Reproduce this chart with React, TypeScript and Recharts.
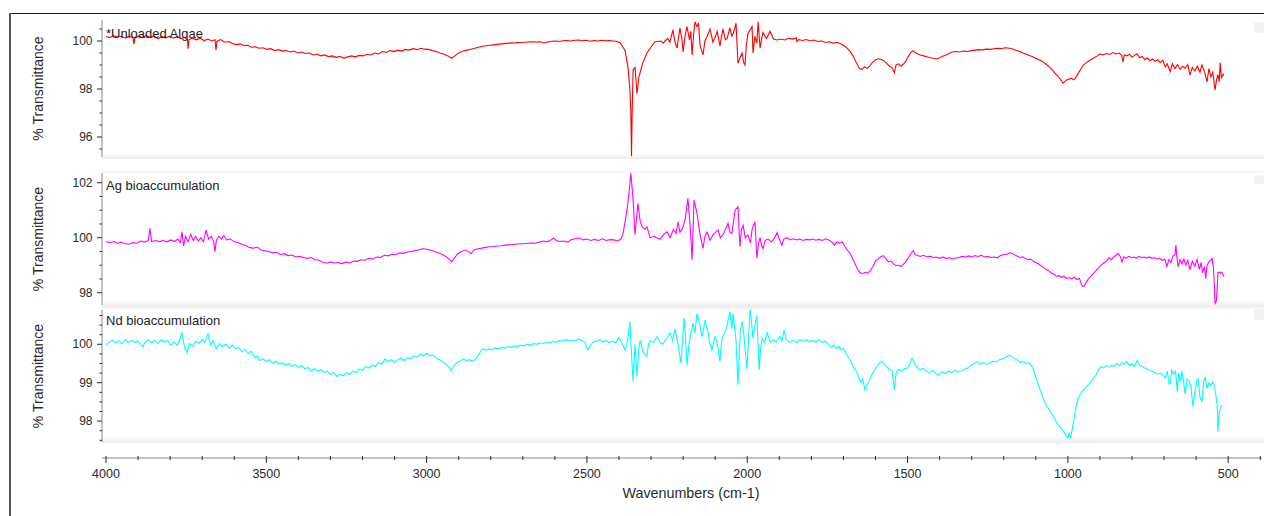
import React from 'react';
import { LineChart, Line, XAxis, YAxis, Legend } from 'recharts';

const FONT = '"Liberation Sans", Arial, Helvetica, sans-serif';

// [wavenumber (cm-1), % transmittance]
const algaeSpectrum: [number, number][] = [
  [4000, 100.18], [3988, 100.15], [3976, 100.22], [3964, 100.17], [3952, 100.2], [3940, 100.12], [3928, 100.2], [3916, 100.15],
  [3913, 99.87], [3910, 100.12], [3898, 100.2], [3886, 100.14], [3874, 100.22], [3862, 100.15], [3850, 100.2], [3838, 100.1],
  [3826, 100.18], [3814, 100.13], [3802, 100.2], [3790, 100.12], [3778, 100.18], [3766, 100.1], [3754, 100.15], [3746, 100.05],
  [3744, 99.68], [3741, 100.05], [3730, 100.12], [3718, 100.05], [3706, 100.12], [3694, 100.02], [3682, 100.08], [3670, 100.0],
  [3660, 100.05], [3657, 99.62], [3654, 99.98], [3642, 100.06], [3630, 99.95], [3618, 99.98], [3606, 99.9], [3594, 99.85],
  [3582, 99.88], [3570, 99.8], [3558, 99.82], [3546, 99.74], [3534, 99.76], [3522, 99.7], [3510, 99.72], [3498, 99.65],
  [3486, 99.68], [3474, 99.6], [3462, 99.64], [3450, 99.58], [3438, 99.6], [3426, 99.54], [3414, 99.58], [3402, 99.5],
  [3390, 99.54], [3378, 99.48], [3366, 99.5], [3354, 99.42], [3342, 99.46], [3330, 99.38], [3318, 99.42], [3306, 99.35],
  [3294, 99.38], [3282, 99.32], [3270, 99.36], [3258, 99.28], [3246, 99.34], [3234, 99.38], [3222, 99.34], [3210, 99.4],
  [3198, 99.38], [3186, 99.45], [3174, 99.42], [3162, 99.5], [3150, 99.46], [3138, 99.56], [3126, 99.52], [3114, 99.6],
  [3102, 99.56], [3090, 99.62], [3078, 99.58], [3066, 99.65], [3054, 99.62], [3042, 99.68], [3030, 99.64], [3018, 99.7],
  [3006, 99.66], [2994, 99.65], [2982, 99.6], [2970, 99.56], [2958, 99.5], [2946, 99.45], [2934, 99.38], [2922, 99.28],
  [2910, 99.4], [2898, 99.52], [2886, 99.58], [2874, 99.62], [2862, 99.66], [2850, 99.7], [2838, 99.74], [2826, 99.78],
  [2814, 99.8], [2802, 99.82], [2790, 99.84], [2778, 99.86], [2766, 99.88], [2754, 99.9], [2742, 99.91], [2730, 99.92],
  [2718, 99.94], [2706, 99.93], [2694, 99.95], [2682, 99.96], [2670, 99.97], [2658, 99.96], [2646, 99.97], [2634, 99.92],
  [2622, 99.96], [2610, 99.99], [2598, 100.0], [2586, 99.98], [2574, 100.01], [2562, 100.02], [2550, 100.0], [2538, 100.03],
  [2526, 100.04], [2514, 100.01], [2502, 100.03], [2490, 99.99], [2478, 100.02], [2466, 100.0], [2454, 100.03], [2442, 100.01],
  [2430, 100.02], [2418, 100.0], [2406, 99.98], [2396, 99.92], [2390, 99.8], [2381, 99.6], [2372, 98.9], [2366, 97.96],
  [2363, 97.0], [2361, 95.2], [2359, 97.0], [2356, 98.8], [2350, 98.9], [2344, 97.8], [2338, 98.5], [2326, 99.08],
  [2313, 99.5], [2300, 99.75], [2288, 99.97], [2270, 100.0], [2262, 99.92], [2255, 100.02], [2248, 100.1], [2241, 99.95],
  [2232, 100.46], [2226, 100.0], [2219, 99.7], [2210, 100.54], [2204, 100.1], [2200, 99.55], [2194, 100.2], [2188, 100.6],
  [2180, 100.05], [2176, 100.4], [2172, 99.42], [2167, 100.3], [2163, 100.8], [2157, 100.6], [2152, 100.75], [2147, 99.8],
  [2138, 99.42], [2132, 100.0], [2125, 100.2], [2116, 100.5], [2107, 99.95], [2100, 100.15], [2094, 100.4], [2085, 99.8],
  [2080, 100.2], [2076, 100.5], [2068, 100.05], [2063, 100.1], [2054, 100.55], [2048, 100.2], [2044, 100.3], [2035, 100.74],
  [2029, 99.07], [2022, 99.3], [2016, 99.5], [2011, 99.1], [2007, 99.0], [2003, 99.8], [1998, 100.3], [1985, 100.6],
  [1982, 99.5], [1976, 100.2], [1970, 99.9], [1966, 100.8], [1960, 99.7], [1955, 100.1], [1951, 100.35], [1940, 100.1],
  [1929, 100.4], [1918, 100.08], [1907, 100.04], [1895, 100.08], [1883, 100.04], [1871, 100.12], [1859, 100.08], [1847, 100.14],
  [1845, 99.97], [1840, 100.06], [1828, 100.02], [1816, 100.06], [1804, 100.0], [1792, 100.04], [1780, 99.98], [1768, 100.0],
  [1756, 99.94], [1744, 99.97], [1732, 99.92], [1720, 99.95], [1711, 99.9], [1700, 99.82], [1690, 99.72], [1680, 99.58],
  [1670, 99.38], [1660, 99.1], [1650, 98.85], [1642, 98.82], [1634, 98.92], [1626, 98.86], [1618, 98.95], [1610, 99.1],
  [1600, 99.22], [1590, 99.26], [1580, 99.22], [1572, 99.15], [1564, 99.05], [1556, 98.95], [1548, 98.88], [1541, 98.68],
  [1536, 99.0], [1528, 99.05], [1520, 98.95], [1514, 99.02], [1506, 99.15], [1498, 99.35], [1490, 99.52], [1484, 99.6],
  [1476, 99.52], [1468, 99.46], [1460, 99.42], [1450, 99.38], [1440, 99.34], [1430, 99.3], [1420, 99.28], [1410, 99.25],
  [1400, 99.3], [1390, 99.36], [1380, 99.42], [1370, 99.48], [1360, 99.54], [1350, 99.56], [1338, 99.54], [1326, 99.58],
  [1314, 99.56], [1302, 99.6], [1290, 99.62], [1278, 99.64], [1266, 99.63], [1254, 99.66], [1242, 99.65], [1230, 99.68],
  [1218, 99.7], [1206, 99.69], [1194, 99.72], [1182, 99.7], [1170, 99.66], [1160, 99.6], [1150, 99.56], [1140, 99.5],
  [1130, 99.45], [1120, 99.4], [1110, 99.34], [1100, 99.28], [1090, 99.22], [1080, 99.15], [1070, 99.05], [1060, 98.95],
  [1050, 98.82], [1040, 98.65], [1030, 98.52], [1022, 98.38], [1015, 98.24], [1010, 98.3], [1004, 98.38], [998, 98.4],
  [990, 98.45], [982, 98.38], [975, 98.48], [968, 98.65], [960, 98.82], [952, 99.0], [944, 99.08], [936, 99.16],
  [928, 99.22], [918, 99.3], [908, 99.38], [900, 99.46], [890, 99.42], [880, 99.48], [870, 99.44], [860, 99.52],
  [850, 99.46], [840, 99.5], [832, 99.4], [828, 99.12], [824, 99.42], [816, 99.38], [808, 99.45], [800, 99.32],
  [792, 99.4], [784, 99.47], [776, 99.3], [768, 99.36], [760, 99.22], [752, 99.3], [744, 99.18], [736, 99.25],
  [728, 99.15], [720, 99.22], [712, 99.1], [704, 99.2], [696, 98.92], [690, 99.05], [681, 98.72], [674, 99.05],
  [666, 98.85], [658, 99.02], [650, 98.82], [642, 98.95], [634, 98.86], [626, 99.02], [619, 98.58], [612, 98.9],
  [604, 98.75], [596, 98.95], [588, 98.7], [582, 99.0], [574, 98.72], [566, 98.3], [560, 98.85], [554, 98.5],
  [548, 98.7], [541, 97.96], [536, 98.4], [532, 98.6], [528, 98.3], [525, 99.1], [521, 98.45], [516, 98.62],
  [513, 98.56],
];

const agSpectrum: [number, number][] = [
  [4000, 99.85], [3988, 99.82], [3976, 99.86], [3964, 99.8], [3952, 99.84], [3940, 99.78], [3928, 99.76], [3916, 99.82],
  [3904, 99.8], [3892, 99.88], [3880, 99.84], [3868, 99.9], [3863, 100.34], [3858, 99.86], [3846, 99.9], [3834, 99.86],
  [3822, 99.9], [3810, 99.85], [3798, 99.92], [3786, 99.86], [3776, 99.95], [3768, 99.82], [3763, 100.22], [3758, 99.7],
  [3752, 100.05], [3744, 99.85], [3736, 100.12], [3728, 99.9], [3720, 100.05], [3712, 99.88], [3704, 100.0], [3696, 99.85],
  [3688, 100.28], [3680, 99.95], [3672, 100.05], [3664, 99.85], [3660, 99.49], [3656, 99.9], [3648, 100.05], [3640, 99.95],
  [3632, 100.08], [3624, 99.92], [3612, 99.95], [3600, 99.85], [3588, 99.82], [3576, 99.76], [3564, 99.72], [3552, 99.64],
  [3540, 99.62], [3528, 99.66], [3516, 99.55], [3504, 99.52], [3492, 99.5], [3480, 99.45], [3468, 99.47], [3456, 99.38],
  [3444, 99.42], [3432, 99.35], [3420, 99.37], [3408, 99.3], [3396, 99.32], [3384, 99.28], [3372, 99.25], [3360, 99.28],
  [3348, 99.2], [3336, 99.18], [3324, 99.12], [3312, 99.07], [3300, 99.12], [3288, 99.08], [3276, 99.1], [3264, 99.05],
  [3252, 99.12], [3240, 99.08], [3228, 99.15], [3216, 99.14], [3204, 99.2], [3192, 99.18], [3180, 99.25], [3168, 99.22],
  [3156, 99.3], [3144, 99.28], [3132, 99.36], [3120, 99.34], [3108, 99.4], [3096, 99.38], [3084, 99.45], [3072, 99.43],
  [3060, 99.48], [3048, 99.5], [3036, 99.53], [3024, 99.56], [3012, 99.6], [3000, 99.58], [2988, 99.55], [2976, 99.5],
  [2964, 99.45], [2952, 99.4], [2940, 99.32], [2928, 99.2], [2921, 99.13], [2914, 99.25], [2904, 99.4], [2892, 99.5],
  [2880, 99.55], [2870, 99.5], [2862, 99.42], [2852, 99.55], [2840, 99.6], [2828, 99.62], [2816, 99.65], [2804, 99.67],
  [2792, 99.68], [2780, 99.7], [2768, 99.71], [2756, 99.73], [2744, 99.74], [2732, 99.75], [2720, 99.77], [2708, 99.78],
  [2696, 99.78], [2684, 99.8], [2672, 99.81], [2660, 99.8], [2648, 99.84], [2636, 99.88], [2624, 99.85], [2612, 99.92],
  [2604, 99.98], [2596, 99.9], [2584, 99.86], [2572, 99.88], [2560, 99.84], [2548, 99.93], [2536, 99.96], [2524, 99.99],
  [2512, 99.92], [2500, 99.95], [2488, 99.9], [2476, 99.94], [2464, 99.9], [2452, 99.96], [2440, 99.9], [2428, 99.93],
  [2416, 99.92], [2404, 99.88], [2394, 99.95], [2388, 100.1], [2375, 101.0], [2369, 101.6], [2363, 102.34], [2356, 101.37],
  [2350, 100.1], [2341, 101.25], [2334, 100.6], [2328, 100.4], [2319, 100.3], [2313, 100.4], [2303, 100.0], [2290, 100.05],
  [2280, 99.98], [2272, 99.95], [2262, 100.1], [2250, 100.22], [2241, 100.0], [2230, 100.3], [2222, 100.15], [2216, 100.58],
  [2210, 100.2], [2203, 100.3], [2194, 100.64], [2185, 101.43], [2178, 100.4], [2172, 99.19], [2166, 101.37], [2157, 100.9],
  [2152, 100.5], [2147, 100.1], [2138, 99.61], [2132, 100.05], [2125, 100.2], [2116, 99.9], [2107, 100.1], [2098, 100.2],
  [2091, 100.28], [2084, 100.0], [2076, 100.1], [2068, 100.3], [2060, 100.52], [2054, 100.2], [2048, 100.15], [2038, 101.0],
  [2029, 101.13], [2023, 99.67], [2018, 100.3], [2013, 100.45], [2006, 100.0], [1998, 100.1], [1990, 99.8], [1985, 100.3],
  [1976, 100.58], [1970, 99.25], [1965, 99.8], [1960, 100.0], [1955, 99.7], [1951, 99.6], [1944, 99.9], [1935, 99.95],
  [1924, 99.85], [1914, 100.0], [1907, 100.18], [1898, 99.9], [1892, 99.73], [1886, 99.95], [1876, 100.0], [1866, 99.92],
  [1856, 99.96], [1846, 99.92], [1836, 99.95], [1826, 99.9], [1816, 99.94], [1806, 99.92], [1796, 99.95], [1786, 99.91],
  [1776, 99.94], [1766, 99.9], [1756, 99.96], [1746, 99.92], [1736, 99.85], [1728, 99.73], [1720, 99.85], [1712, 99.8],
  [1704, 99.85], [1696, 99.7], [1688, 99.55], [1680, 99.45], [1672, 99.25], [1664, 99.05], [1656, 98.85], [1648, 98.72],
  [1640, 98.7], [1632, 98.74], [1624, 98.7], [1616, 98.8], [1608, 98.95], [1600, 99.15], [1592, 99.22], [1584, 99.3],
  [1576, 99.35], [1568, 99.25], [1560, 99.12], [1552, 99.15], [1544, 99.05], [1536, 98.98], [1528, 99.0], [1520, 98.95],
  [1512, 99.05], [1504, 99.15], [1496, 99.3], [1488, 99.45], [1482, 99.53], [1476, 99.38], [1468, 99.35], [1460, 99.32],
  [1450, 99.36], [1440, 99.3], [1430, 99.33], [1420, 99.28], [1410, 99.3], [1400, 99.25], [1390, 99.3], [1380, 99.24],
  [1370, 99.28], [1360, 99.22], [1350, 99.26], [1340, 99.28], [1330, 99.32], [1320, 99.3], [1310, 99.34], [1300, 99.3],
  [1290, 99.35], [1280, 99.32], [1270, 99.36], [1260, 99.3], [1250, 99.32], [1240, 99.28], [1230, 99.3], [1220, 99.27],
  [1210, 99.35], [1200, 99.38], [1190, 99.4], [1180, 99.45], [1172, 99.42], [1164, 99.36], [1156, 99.32], [1148, 99.28],
  [1140, 99.3], [1132, 99.24], [1124, 99.2], [1116, 99.22], [1108, 99.15], [1100, 99.1], [1092, 99.05], [1084, 98.98],
  [1076, 98.92], [1068, 98.85], [1060, 98.8], [1052, 98.72], [1044, 98.68], [1036, 98.6], [1028, 98.62], [1020, 98.56],
  [1012, 98.6], [1004, 98.52], [996, 98.55], [988, 98.5], [980, 98.56], [972, 98.48], [964, 98.52], [956, 98.25],
  [950, 98.22], [944, 98.35], [936, 98.5], [928, 98.6], [920, 98.7], [912, 98.8], [904, 98.9], [896, 99.0],
  [888, 99.08], [880, 99.15], [872, 99.28], [864, 99.2], [856, 99.3], [848, 99.38], [843, 99.43], [836, 99.3],
  [831, 99.12], [826, 99.3], [818, 99.25], [810, 99.32], [802, 99.28], [794, 99.3], [786, 99.25], [778, 99.32],
  [770, 99.28], [762, 99.3], [754, 99.26], [746, 99.3], [738, 99.25], [730, 99.28], [722, 99.22], [714, 99.25],
  [706, 99.18], [698, 99.22], [691, 98.95], [685, 99.2], [678, 99.1], [672, 99.35], [666, 99.38], [663, 99.73],
  [660, 99.3], [656, 98.95], [650, 99.2], [644, 99.05], [638, 99.22], [632, 99.0], [626, 99.18], [619, 98.83],
  [612, 99.15], [604, 98.95], [597, 99.22], [590, 98.85], [584, 99.1], [580, 98.72], [574, 98.95], [570, 98.52],
  [566, 99.0], [560, 99.12], [554, 99.18], [550, 99.25], [546, 98.9], [543, 98.2], [541, 97.61], [537, 97.7],
  [535, 98.0], [532, 98.72], [528, 98.75], [524, 98.7], [519, 98.75], [513, 98.58],
];

const ndSpectrum: [number, number][] = [
  [4000, 99.98], [3990, 100.05], [3980, 100.11], [3970, 100.04], [3960, 100.09], [3950, 100.02], [3940, 100.12], [3930, 100.05],
  [3920, 100.1], [3910, 100.04], [3900, 100.08], [3890, 99.98], [3885, 99.94], [3878, 100.05], [3868, 100.12], [3858, 100.04],
  [3848, 100.1], [3838, 100.02], [3828, 100.12], [3818, 100.06], [3808, 100.1], [3798, 99.98], [3788, 100.06], [3778, 99.98],
  [3770, 100.12], [3763, 100.31], [3756, 99.95], [3747, 99.77], [3740, 100.02], [3730, 99.95], [3720, 100.08], [3710, 100.02],
  [3700, 100.12], [3692, 100.05], [3682, 100.27], [3674, 99.98], [3666, 100.1], [3656, 99.88], [3646, 100.02], [3636, 99.95],
  [3626, 100.0], [3616, 99.9], [3606, 99.98], [3596, 99.88], [3586, 99.92], [3576, 99.8], [3566, 99.86], [3556, 99.76],
  [3546, 99.82], [3536, 99.65], [3528, 99.7], [3520, 99.58], [3510, 99.62], [3500, 99.55], [3490, 99.6], [3480, 99.5],
  [3470, 99.56], [3460, 99.48], [3450, 99.52], [3440, 99.45], [3430, 99.5], [3420, 99.42], [3410, 99.47], [3400, 99.4],
  [3390, 99.45], [3380, 99.36], [3370, 99.4], [3360, 99.3], [3350, 99.37], [3340, 99.3], [3330, 99.34], [3320, 99.26],
  [3310, 99.3], [3300, 99.22], [3290, 99.26], [3280, 99.16], [3270, 99.22], [3260, 99.18], [3250, 99.26], [3240, 99.22],
  [3230, 99.3], [3220, 99.26], [3210, 99.36], [3200, 99.32], [3190, 99.42], [3180, 99.38], [3170, 99.46], [3160, 99.42],
  [3150, 99.52], [3140, 99.48], [3130, 99.62], [3120, 99.55], [3110, 99.6], [3100, 99.52], [3090, 99.6], [3080, 99.64],
  [3070, 99.58], [3060, 99.66], [3050, 99.62], [3040, 99.7], [3030, 99.66], [3020, 99.74], [3010, 99.7], [3000, 99.76],
  [2990, 99.7], [2980, 99.72], [2970, 99.64], [2960, 99.6], [2950, 99.55], [2940, 99.48], [2930, 99.4], [2924, 99.31],
  [2916, 99.42], [2906, 99.52], [2896, 99.56], [2886, 99.62], [2876, 99.58], [2866, 99.6], [2856, 99.56], [2846, 99.62],
  [2836, 99.75], [2826, 99.88], [2816, 99.85], [2806, 99.88], [2796, 99.86], [2786, 99.9], [2776, 99.88], [2766, 99.92],
  [2756, 99.9], [2746, 99.94], [2736, 99.92], [2726, 99.96], [2716, 99.94], [2706, 99.98], [2696, 99.96], [2686, 100.0],
  [2676, 99.98], [2666, 100.02], [2656, 100.0], [2646, 100.04], [2636, 100.02], [2626, 100.06], [2616, 100.04], [2606, 100.08],
  [2596, 100.05], [2586, 100.1], [2576, 100.08], [2566, 100.12], [2556, 100.09], [2546, 100.1], [2536, 100.08], [2526, 100.14],
  [2516, 100.1], [2506, 100.05], [2497, 99.85], [2490, 99.95], [2481, 100.06], [2470, 100.08], [2460, 100.12], [2450, 100.06],
  [2440, 100.1], [2430, 100.05], [2420, 100.08], [2410, 100.04], [2400, 100.18], [2392, 100.05], [2381, 99.85], [2373, 100.1],
  [2366, 100.59], [2360, 99.6], [2356, 99.03], [2350, 100.0], [2344, 99.16], [2338, 99.9], [2334, 100.1], [2325, 99.8],
  [2313, 99.68], [2308, 100.0], [2303, 100.1], [2292, 100.05], [2281, 100.2], [2272, 100.05], [2263, 100.0], [2252, 100.15],
  [2241, 100.29], [2233, 100.1], [2225, 100.4], [2216, 100.0], [2207, 99.51], [2201, 100.2], [2197, 100.68], [2192, 100.1],
  [2188, 99.45], [2183, 99.9], [2178, 100.2], [2169, 100.55], [2163, 100.3], [2157, 100.8], [2150, 100.6], [2141, 100.2],
  [2136, 100.4], [2132, 100.63], [2122, 100.3], [2116, 100.0], [2110, 99.85], [2101, 100.2], [2094, 100.05], [2085, 99.55],
  [2080, 100.1], [2076, 100.2], [2068, 100.35], [2063, 100.5], [2054, 100.85], [2048, 100.4], [2044, 100.8], [2035, 100.1],
  [2029, 98.94], [2022, 100.3], [2016, 100.6], [2010, 100.2], [2007, 99.9], [2001, 99.35], [1995, 100.3], [1991, 100.94],
  [1986, 100.5], [1982, 100.15], [1976, 100.5], [1970, 100.75], [1963, 99.33], [1958, 99.9], [1954, 100.15], [1946, 100.05],
  [1938, 100.3], [1928, 100.05], [1920, 100.12], [1910, 100.06], [1898, 100.2], [1892, 100.08], [1885, 100.37], [1878, 100.12],
  [1867, 100.05], [1856, 100.1], [1846, 100.05], [1836, 100.12], [1826, 100.08], [1816, 100.12], [1806, 100.06], [1796, 100.1],
  [1786, 100.06], [1776, 100.12], [1766, 100.05], [1756, 100.08], [1746, 99.98], [1738, 99.92], [1730, 99.98], [1722, 99.9],
  [1714, 99.95], [1706, 99.85], [1700, 99.9], [1692, 99.75], [1684, 99.65], [1676, 99.55], [1668, 99.4], [1660, 99.3],
  [1652, 99.15], [1646, 99.02], [1640, 99.1], [1633, 98.81], [1626, 98.95], [1620, 99.05], [1612, 99.2], [1604, 99.32],
  [1596, 99.42], [1588, 99.5], [1580, 99.56], [1572, 99.48], [1564, 99.4], [1556, 99.35], [1548, 99.3], [1541, 98.81],
  [1536, 99.25], [1528, 99.35], [1520, 99.3], [1510, 99.36], [1500, 99.38], [1492, 99.5], [1486, 99.64], [1478, 99.5],
  [1470, 99.4], [1462, 99.33], [1452, 99.38], [1442, 99.3], [1432, 99.26], [1422, 99.32], [1412, 99.24], [1402, 99.2],
  [1392, 99.28], [1382, 99.24], [1372, 99.3], [1362, 99.26], [1352, 99.32], [1342, 99.28], [1332, 99.3], [1322, 99.35],
  [1312, 99.38], [1302, 99.45], [1292, 99.5], [1283, 99.55], [1274, 99.48], [1264, 99.52], [1254, 99.48], [1244, 99.5],
  [1234, 99.56], [1224, 99.54], [1214, 99.6], [1204, 99.62], [1194, 99.66], [1186, 99.7], [1180, 99.72], [1172, 99.66],
  [1164, 99.62], [1156, 99.58], [1148, 99.52], [1140, 99.55], [1132, 99.5], [1124, 99.52], [1116, 99.48], [1108, 99.35],
  [1100, 99.15], [1092, 98.95], [1084, 98.75], [1076, 98.58], [1068, 98.42], [1060, 98.32], [1052, 98.22], [1044, 98.1],
  [1036, 97.98], [1028, 97.88], [1020, 97.8], [1012, 97.72], [1006, 97.62], [1000, 97.56], [996, 97.7], [992, 97.56],
  [986, 97.8], [980, 98.1], [974, 98.4], [966, 98.62], [960, 98.72], [952, 98.8], [944, 98.88], [936, 98.95],
  [928, 99.02], [920, 99.12], [912, 99.2], [904, 99.35], [896, 99.42], [888, 99.38], [880, 99.45], [872, 99.4],
  [864, 99.46], [856, 99.42], [848, 99.5], [840, 99.44], [832, 99.52], [824, 99.48], [816, 99.55], [808, 99.45],
  [800, 99.5], [792, 99.42], [784, 99.58], [776, 99.45], [768, 99.42], [760, 99.38], [752, 99.35], [744, 99.32],
  [736, 99.3], [728, 99.26], [720, 99.22], [712, 99.25], [704, 99.2], [696, 99.12], [690, 99.3], [684, 98.96],
  [680, 99.0], [676, 99.32], [670, 99.22], [664, 99.3], [659, 98.77], [654, 99.25], [648, 99.05], [644, 99.3],
  [638, 98.95], [634, 98.7], [628, 99.1], [622, 99.05], [616, 98.9], [610, 98.38], [604, 98.75], [598, 99.05],
  [594, 99.1], [588, 98.62], [582, 98.5], [576, 99.05], [572, 99.15], [566, 98.85], [560, 99.0], [554, 98.92],
  [548, 99.02], [542, 98.9], [538, 98.64], [534, 98.4], [532, 97.73], [528, 98.2], [524, 98.35], [519, 98.42],
];

// ---------- axes ----------
const xTicks = [
  4000, 3900, 3800, 3700, 3600, 3500, 3400, 3300, 3200, 3100,
  3000, 2900, 2800, 2700, 2600, 2500, 2400, 2300, 2200, 2100,
  2000, 1900, 1800, 1700, 1600, 1500, 1400, 1300, 1200, 1100,
  1000, 900, 800, 700, 600, 500, 400,
];
const xMajor = [4000, 3500, 3000, 2500, 2000, 1500, 1000, 500];
const X_DOMAIN = [394.5, 4012.5];

const algaeTicks = [95.5, 96, 96.5, 97, 97.5, 98, 98.5, 99, 99.5, 100, 100.5];
const algaeMajor = [96, 98, 100];
const agTicks = [98, 98.5, 99, 99.5, 100, 100.5, 101, 101.5, 102];
const agMajor = [98, 100, 102];
const ndTicks = [97.5, 97.75, 98, 98.25, 98.5, 98.75, 99, 99.25, 99.5, 99.75, 100, 100.25, 100.5, 100.75];
const ndMajor = [98, 99, 100];

const toRows = (s: [number, number][]) => s.map(([wn, t]) => ({ wn, t }));
const algaeData = toRows(algaeSpectrum);
const agData = toRows(agSpectrum);
const ndData = toRows(ndSpectrum);

const TICK_COLOR = '#2a2a2a';
const AXIS_GRAY = '#c4c4c4';

function YTick(props: any) {
  const { x, y, payload, majors } = props;
  const v = payload?.value;
  const major = majors.includes(v);
  return (
    <g>
      <line x1={x - (major ? 5 : 2.5)} x2={x} y1={y} y2={y} stroke={TICK_COLOR} strokeWidth={1} />
      {major && (
        <text x={x - 9.5} y={y + 4.2} textAnchor="end" fontSize={12} fontFamily={FONT} fill={TICK_COLOR}>
          {v}
        </text>
      )}
    </g>
  );
}

function XTick(props: any) {
  const { x, y, payload } = props;
  const v = payload?.value;
  const major = xMajor.includes(v);
  return (
    <g>
      <line x1={x} x2={x} y1={y - 2} y2={y + (major ? 5 : 2)} stroke={TICK_COLOR} strokeWidth={1} />
      {major && (
        <text x={x} y={y + 20} textAnchor="middle" fontSize={12.5} fontFamily={FONT} fill={TICK_COLOR}>
          {v}
        </text>
      )}
    </g>
  );
}

function YTitle(props: any) {
  const { h } = props;
  const cx = 43;
  const cy = h / 2;
  return (
    <text x={cx} y={cy} transform={`rotate(-90 ${cx} ${cy})`} textAnchor="middle" fontSize={14} fontFamily={FONT} fill={TICK_COLOR}>
      % Transmittance
    </text>
  );
}

function XTitle() {
  return (
    <text x={691} y={59} textAnchor="middle" fontSize={14.3} fontFamily={FONT} fill={TICK_COLOR}>
      Wavenumbers (cm-1)
    </text>
  );
}

type PanelProps = {
  top: number;
  height: number;
  data: { wn: number; t: number }[];
  color: string;
  name: string;
  domain: number[];
  ticks: number[];
  majors: number[];
  legendTop: number;
};

function Panel({ top, height, data, color, name, domain, ticks, majors, legendTop }: PanelProps) {
  return (
    <div style={{ position: 'absolute', left: 0, top }}>
      <LineChart width={1264} height={height} data={data} margin={{ top: 0, right: 2, bottom: 0, left: 0 }}>
        <XAxis dataKey="wn" type="number" domain={X_DOMAIN} reversed allowDataOverflow hide />
        <YAxis
          type="number"
          domain={domain}
          allowDataOverflow
          ticks={ticks}
          interval={0}
          width={102}
          tickSize={0}
          tickMargin={0}
          axisLine={{ stroke: AXIS_GRAY, strokeWidth: 2 }}
          tickLine={false}
          tick={<YTick majors={majors} />}
          label={<YTitle h={height} />}
        />
        <Legend
          layout="horizontal"
          verticalAlign="middle"
          align="center"
          wrapperStyle={{ top: legendTop, left: 106, width: 'auto', height: 'auto', margin: 0, padding: 0 }}
          content={(p: any) => (
            <div style={{ fontFamily: FONT, fontSize: 13, lineHeight: '13px', color: '#222', whiteSpace: 'nowrap' }}>
              {p?.payload?.[0]?.value ?? name}
            </div>
          )}
        />
        <Line
          dataKey="t"
          name={name}
          type="linear"
          stroke={color}
          strokeWidth={1.1}
          dot={false}
          activeDot={false}
          isAnimationActive={false}
        />
      </LineChart>
    </div>
  );
}

function Band({ top, height, bg }: { top: number; height: number; bg: string }) {
  return <div style={{ position: 'absolute', left: 102, top, width: 1162, height, background: bg }} />;
}

export default function App() {
  return (
    <div style={{ position: 'absolute', left: 0, top: 0, width: 1264, height: 516, background: '#fff', overflow: 'hidden' }}>
      {/* frame */}
      <div style={{ position: 'absolute', left: 10, top: 13, width: 1254, height: 1, background: '#222' }} />
      <div style={{ position: 'absolute', left: 9, top: 13, width: 2, height: 503, background: '#555' }} />
      {/* panel shading */}
      <Band top={153} height={6} bg="linear-gradient(#ffffff, #ececec)" />
      <Band top={171} height={3} bg="linear-gradient(#f4f4f4, #fbfbfb)" />
      <Band top={300} height={7} bg="linear-gradient(#ffffff, #ececec)" />
      <Band top={307} height={3} bg="linear-gradient(#f4f4f4, #fbfbfb)" />
      <Band top={436} height={7} bg="linear-gradient(#ffffff, #ececec)" />
      {/* small corner boxes */}
      <div style={{ position: 'absolute', left: 1254, top: 22, width: 10, height: 11, background: '#f3f3f3', borderRadius: 2 }} />
      <div style={{ position: 'absolute', left: 1254, top: 175, width: 10, height: 9, background: '#f3f3f3', borderRadius: 2 }} />
      <div style={{ position: 'absolute', left: 1254, top: 309, width: 10, height: 11, background: '#f3f3f3', borderRadius: 2 }} />

      <Panel top={20} height={137} data={algaeData} color="#ff0000" name="*Unloaded Algae"
        domain={[95.167, 100.875]} ticks={algaeTicks} majors={algaeMajor} legendTop={7} />
      <Panel top={173} height={132} data={agData} color="#ff00ff" name="Ag bioaccumulation"
        domain={[97.553, 102.353]} ticks={agTicks} majors={agMajor} legendTop={5.5} />
      <Panel top={310} height={132} data={ndData} color="#00ffff" name="Nd bioaccumulation"
        domain={[97.456, 100.893]} ticks={ndTicks} majors={ndMajor} legendTop={3.5} />

      <div style={{ position: 'absolute', left: 0, top: 439 }}>
        <LineChart width={1264} height={77} data={ndData} margin={{ top: 0, right: 2, bottom: 0, left: 102 }}>
          <XAxis
            dataKey="wn"
            type="number"
            domain={X_DOMAIN}
            reversed
            allowDataOverflow
            ticks={xTicks}
            interval={0}
            height={58}
            tickSize={0}
            tickMargin={0}
            axisLine={{ stroke: AXIS_GRAY, strokeWidth: 2 }}
            tickLine={false}
            tick={<XTick />}
            label={<XTitle />}
          />
        </LineChart>
      </div>
    </div>
  );
}
